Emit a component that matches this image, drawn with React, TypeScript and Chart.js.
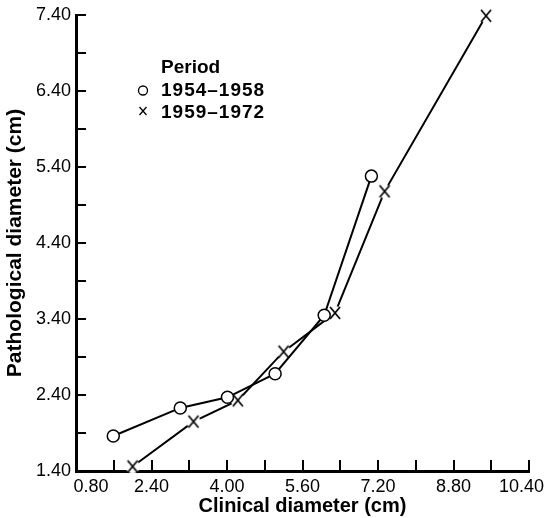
import React, { useEffect, useRef } from 'react';
import { Chart, registerables } from 'chart.js';

Chart.register(...registerables);

// ---- data ----
const LEGEND_TITLE = 'Period';
const SERIES_A_LABEL = '1954–1958';
const SERIES_B_LABEL = '1959–1972';

const A_X = [1.59, 3.01, 4.01, 5.02, 6.06, 7.06];
const A_Y = [1.86, 2.23, 2.37, 2.68, 3.45, 5.28];

const B_X = [2.0, 3.29, 4.23, 5.2, 6.29, 7.34, 9.49];
const B_Y = [1.46, 2.05, 2.33, 2.97, 3.48, 5.08, 7.39];

const X_TICKS = [0.8, 2.4, 4.0, 5.6, 7.2, 8.8, 10.4];
const Y_TICKS = [1.4, 2.4, 3.4, 4.4, 5.4, 6.4, 7.4];
const X_TICK_MARKS = [0.8, 1.6, 2.4, 3.2, 4.0, 4.8, 5.6, 6.4, 7.2, 8.0, 8.8, 9.6, 10.4];
const Y_TICK_MARKS = [1.4, 1.9, 2.4, 2.9, 3.4, 3.9, 4.4, 4.9, 5.4, 5.9, 6.4, 6.9, 7.4];

const X_TITLE = 'Clinical diameter (cm)';
const Y_TITLE = 'Pathological diameter (cm)';

const FONT = '"Liberation Sans", Arial, Helvetica, sans-serif';

function makeCrossMarker(): HTMLCanvasElement {
  const c = document.createElement('canvas');
  c.width = 20;
  c.height = 20;
  const g = c.getContext('2d')!;
  g.fillStyle = '#fff';
  g.beginPath();
  g.arc(10, 10, 7, 0, Math.PI * 2);
  g.fill();
  g.strokeStyle = '#000';
  g.lineWidth = 1.7;
  g.beginPath();
  g.moveTo(5, 4);
  g.lineTo(15, 16);
  g.moveTo(15, 4);
  g.lineTo(5, 16);
  g.stroke();
  return c;
}

const tickMarksPlugin = {
  id: 'tickMarks',
  beforeDatasetsDraw(chart: any) {
    const { ctx, chartArea, scales } = chart;
    const xs = scales.x;
    const ys = scales.y;
    ctx.save();
    ctx.strokeStyle = '#000';
    ctx.lineWidth = 2;
    X_TICK_MARKS.forEach((v) => {
      const px = Math.round(xs.getPixelForValue(v));
      ctx.beginPath();
      ctx.moveTo(px, chartArea.bottom);
      ctx.lineTo(px, chartArea.bottom - 11);
      ctx.stroke();
    });
    Y_TICK_MARKS.forEach((v) => {
      const py = Math.round(ys.getPixelForValue(v));
      ctx.beginPath();
      ctx.moveTo(chartArea.left, py);
      ctx.lineTo(chartArea.left + 10, py);
      ctx.stroke();
    });
    ctx.restore();
  },
};

const legendPlugin = {
  id: 'periodLegend',
  afterDraw(chart: any) {
    const { ctx, chartArea } = chart;
    const tx = chartArea.left + 85;
    const sx = chartArea.left + 67;
    ctx.save();
    ctx.fillStyle = '#000';
    ctx.textAlign = 'left';
    ctx.textBaseline = 'alphabetic';
    ctx.font = `bold 19px ${FONT}`;
    ctx.fillText(LEGEND_TITLE, tx, chartArea.top + 58);
    try {
      (ctx as any).letterSpacing = '1px';
    } catch (e) {}
    ctx.fillText(SERIES_A_LABEL, tx, chartArea.top + 81);
    ctx.fillText(SERIES_B_LABEL, tx, chartArea.top + 103);
    try {
      (ctx as any).letterSpacing = '0px';
    } catch (e) {}
    // symbols
    ctx.strokeStyle = '#000';
    ctx.lineWidth = 1.3;
    ctx.beginPath();
    ctx.arc(sx, chartArea.top + 75.5, 4.5, 0, Math.PI * 2);
    ctx.stroke();
    const cy = chartArea.top + 96;
    ctx.beginPath();
    ctx.moveTo(sx - 3.5, cy - 4);
    ctx.lineTo(sx + 3.5, cy + 4);
    ctx.moveTo(sx + 3.5, cy - 4);
    ctx.lineTo(sx - 3.5, cy + 4);
    ctx.stroke();
    ctx.restore();
  },
};

export default function App() {
  const canvasRef = useRef<HTMLCanvasElement | null>(null);

  useEffect(() => {
    if (!canvasRef.current) return;
    const crossMarker = makeCrossMarker();
    const lastX = X_TICKS.length - 1;
    const chart = new Chart(canvasRef.current, {
      type: 'scatter',
      data: {
        datasets: [
          {
            label: SERIES_A_LABEL,
            data: A_X.map((x, i) => ({ x, y: A_Y[i] })),
            showLine: true,
            borderColor: '#000',
            borderWidth: 2,
            pointStyle: 'circle',
            pointRadius: 6,
            pointBackgroundColor: '#fff',
            pointBorderColor: '#000',
            pointBorderWidth: 1.5,
            clip: false,
          } as any,
          {
            label: SERIES_B_LABEL,
            data: B_X.map((x, i) => ({ x, y: B_Y[i] })),
            showLine: true,
            borderColor: '#000',
            borderWidth: 2,
            pointStyle: crossMarker,
            pointRadius: 7,
            clip: false,
          } as any,
        ],
      },
      options: {
        animation: false,
        responsive: false,
        maintainAspectRatio: false,
        layout: { padding: { top: 15, right: 19, left: 0, bottom: 0 } },
        plugins: {
          legend: { display: false },
          tooltip: { enabled: false },
          title: { display: false },
        },
        scales: {
          x: {
            type: 'linear',
            min: 0.8,
            max: 10.4,
            grid: { display: false, drawTicks: false },
            border: { display: true, color: '#000', width: 3 },
            afterBuildTicks: (s: any) => {
              s.ticks = X_TICKS.map((v) => ({ value: v }));
            },
            afterFit: (s: any) => {
              s.height = 47;
              s.paddingLeft = 0;
              s.paddingRight = 0;
            },
            ticks: {
              color: '#000',
              font: { family: FONT, size: 18 },
              padding: 5,
              maxRotation: 0,
              autoSkip: false,
              callback: (v: any, i: number) => {
                const t = Number(v).toFixed(2);
                if (i === 0) return '      ' + t;
                if (i === lastX) return t + '   ';
                return t;
              },
            },
            title: {
              display: true,
              text: X_TITLE,
              color: '#000',
              font: { family: FONT, size: 20, weight: 'bold' },
              padding: { top: 0, bottom: 0 },
            },
          },
          y: {
            type: 'linear',
            min: 1.4,
            max: 7.4,
            grid: { display: false, drawTicks: false },
            border: { display: true, color: '#000', width: 3 },
            afterBuildTicks: (s: any) => {
              s.ticks = Y_TICKS.map((v) => ({ value: v }));
            },
            afterFit: (s: any) => {
              s.width = 76;
              s.paddingTop = 0;
              s.paddingBottom = 0;
            },
            ticks: {
              color: '#000',
              font: { family: FONT, size: 18 },
              padding: 5,
              autoSkip: false,
              callback: (v: any) => Number(v).toFixed(2),
            },
            title: {
              display: true,
              text: Y_TITLE,
              color: '#000',
              font: { family: FONT, size: 21, weight: 'bold' },
              padding: { top: 3, bottom: 0 },
            },
          },
        },
      } as any,
      plugins: [tickMarksPlugin, legendPlugin],
    });
    return () => chart.destroy();
  }, []);

  return (
    <div style={{ position: 'absolute', left: 0, top: 0, width: 548, height: 518, background: '#fff' }}>
      <canvas ref={canvasRef} width={548} height={518} style={{ display: 'block' }} />
    </div>
  );
}
